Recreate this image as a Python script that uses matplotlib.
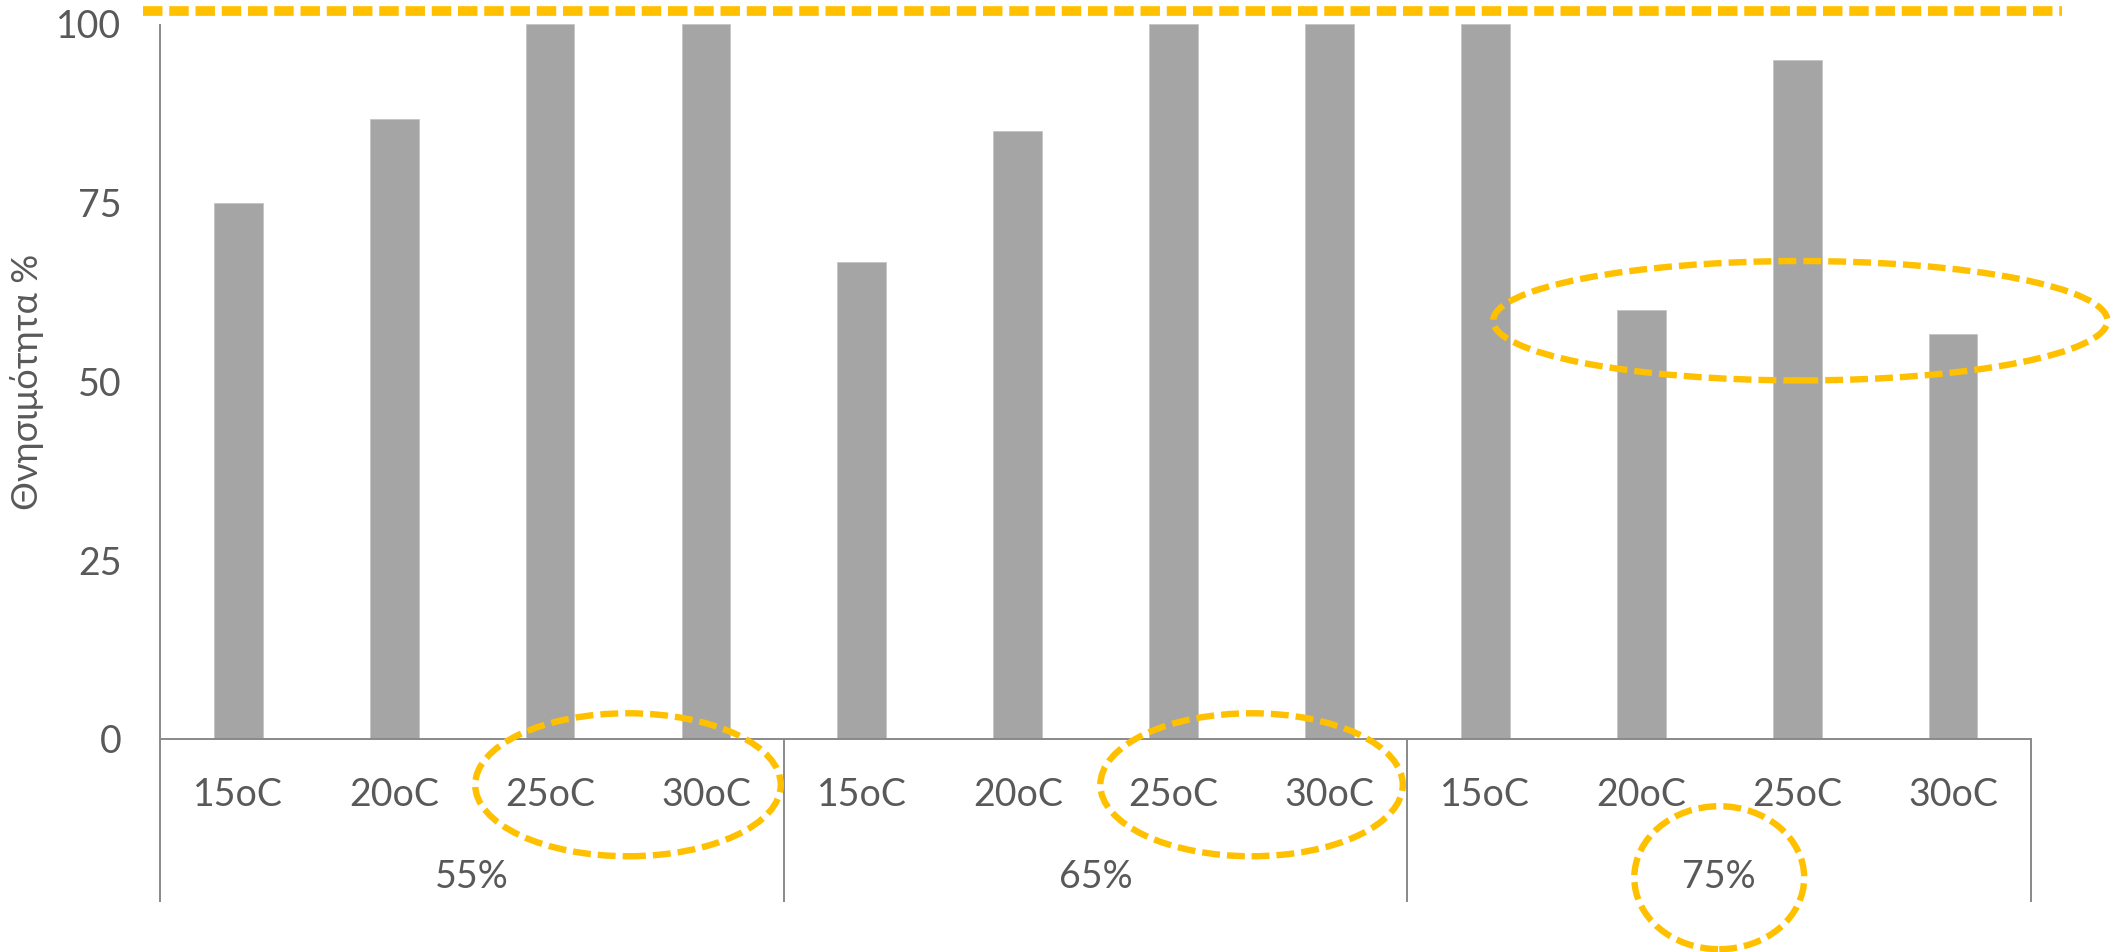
import matplotlib
matplotlib.use("Agg")
import matplotlib.pyplot as plt
from matplotlib.patches import Ellipse
import numpy as np

# mortality (%) per humidity group and temperature
groups = ['55%', '65%', '75%']
temps = ['15oC', '20oC', '25oC', '30oC']
mort_55 = [75, 86.7, 100, 100]
mort_65 = [66.7, 85, 100, 100]
mort_75 = [100, 60, 95, 56.7]
yticks = [0, 25, 50, 75, 100]
ylabel = 'Θνησιμότητα %'

values = mort_55 + mort_65 + mort_75
labels = temps * len(groups)
x = np.arange(len(values))

text_col = '#595959'
axis_col = '#898989'
bar_col = '#A5A5A5'
hl_col = '#FFC000'
font = ['Lato', 'Noto Sans', 'DejaVu Sans']
fs = 27

plt.rcParams['font.family'] = font

fig = plt.figure(figsize=(21.13, 9.52), dpi=100)
ax = fig.add_axes([0.07587, 0.22374, 0.9612 - 0.07587, 0.97479 - 0.22374])

ax.bar(x, values, width=0.3125, color=bar_col, edgecolor='#C4C4C4', linewidth=0.6, zorder=2)

ax.set_xlim(-0.5, len(values) - 0.5)
ax.set_ylim(0, 100)
ax.set_yticks(yticks)
ax.set_yticklabels([str(v) for v in yticks], fontsize=fs, color=text_col)
ax.tick_params(axis='y', length=0, pad=28)
ax.set_xticks([])

for s in ['top', 'right']:
    ax.spines[s].set_visible(False)
ax.spines['left'].set_visible(False)
ax.spines['bottom'].set_color(axis_col)
ax.spines['bottom'].set_linewidth(1.4)

tr = ax.get_xaxis_transform()
# multi-level category axis: temperatures, then humidity groups
for xi, lab in zip(x, labels):
    ax.text(xi, -0.0783, lab, transform=tr, ha='center', va='center',
            fontsize=fs, color=text_col)
n = len(temps)
for gi, g in enumerate(groups):
    ax.text(gi * n + (n - 1) / 2, -0.193, g, transform=tr, ha='center',
            va='center', fontsize=fs, color=text_col)
for b in range(len(groups) + 1):
    xb = b * n - 0.5
    top = 1.0 if b == 0 else 0.0
    ax.plot([xb, xb], [top, -0.2276], transform=tr, color=axis_col,
            lw=1.4, clip_on=False, solid_capstyle='butt')

ax.set_ylabel(ylabel, fontsize=26, color=text_col)
ax.yaxis.set_label_coords(-0.062, 0.5)

# highlight marks
ax.plot([-0.61, 11.7], [101.75, 101.75], color=hl_col, lw=7.0,
        linestyle=(0, (2.0, 0.7)), clip_on=False, dash_capstyle='butt')

ell_style = dict(fill=False, edgecolor=hl_col, lw=4.6,
                 linestyle=(0, (2.8, 1.1)), clip_on=False, zorder=5)
ax.add_patch(Ellipse((2.5, -6.4), 1.96, 20.0, **ell_style))
ax.add_patch(Ellipse((6.5, -6.4), 1.94, 20.0, **ell_style))
ax.add_patch(Ellipse((9.5, -19.4), 1.09, 20.0, **ell_style))
ax.add_patch(Ellipse((10.02, 58.5), 3.94, 16.7, **ell_style))

fig.savefig('out.png', dpi=100)
